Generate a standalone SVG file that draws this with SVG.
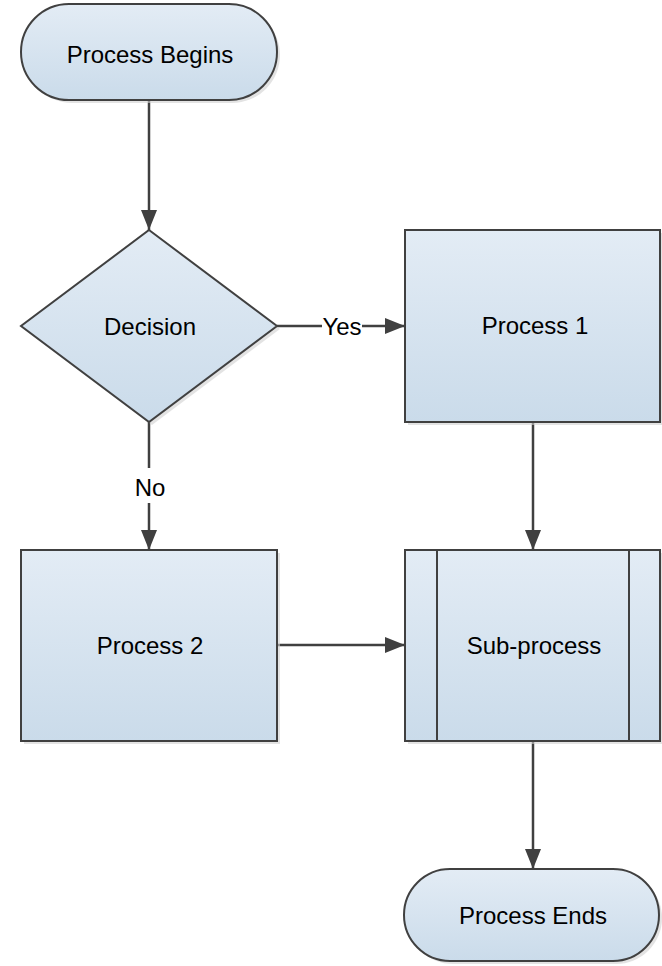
<svg xmlns="http://www.w3.org/2000/svg" width="662" height="966" viewBox="0 0 662 966">
<style>
.shape{fill:url(#g);stroke:#404040;stroke-width:2}
.shadow{fill:#d0d0d0;opacity:0.6}
.conn{fill:none;stroke:#404040;stroke-width:2.5}
.lbl,.clbl{font-family:"Liberation Sans",Arial,sans-serif;font-size:24px;fill:#000;text-anchor:middle}
</style>
<defs>
<linearGradient id="g" x1="0" y1="0" x2="0" y2="1">
<stop offset="0" stop-color="#e3ecf5"/>
<stop offset="1" stop-color="#cadbea"/>
</linearGradient>
<marker id="arr" viewBox="0 0 20 16" refX="20" refY="8" markerWidth="20" markerHeight="16" orient="auto" markerUnits="userSpaceOnUse">
<path d="M0,0 L20,8 L0,16 z" fill="#404040"/>
</marker>
</defs>
<g id="connectors">
<line class="conn" x1="149" y1="100" x2="149" y2="230" marker-end="url(#arr)"/>
<line class="conn" x1="277" y1="326" x2="322" y2="326"/>
<line class="conn" x1="362" y1="326" x2="405" y2="326" marker-end="url(#arr)"/>
<text class="clbl" x="342" y="335">Yes</text>
<line class="conn" x1="149" y1="422" x2="149" y2="468"/>
<line class="conn" x1="149" y1="503" x2="149" y2="550" marker-end="url(#arr)"/>
<text class="clbl" x="150" y="496">No</text>
<line class="conn" x1="533" y1="422" x2="533" y2="550" marker-end="url(#arr)"/>
<line class="conn" x1="277" y1="645" x2="405" y2="645" marker-end="url(#arr)"/>
<line class="conn" x1="533" y1="741" x2="533" y2="869" marker-end="url(#arr)"/>
</g>
<g id="start">
<rect class="shadow" x="24" y="7" width="256" height="96" rx="48"/>
<rect class="shape" x="21" y="4" width="256" height="96" rx="48"/>
<text class="lbl" x="150" y="63">Process Begins</text>
</g>
<g id="decision">
<polygon class="shadow" points="152,233 280,329 152,425 24,329"/>
<polygon class="shape" points="149,230 277,326 149,422 21,326"/>
<text class="lbl" x="150" y="335">Decision</text>
</g>
<g id="process1">
<rect class="shadow" x="408" y="233" width="255" height="192"/>
<rect class="shape" x="405" y="230" width="255" height="192"/>
<text class="lbl" x="535" y="334">Process 1</text>
</g>
<g id="process2">
<rect class="shadow" x="24" y="553" width="256" height="191"/>
<rect class="shape" x="21" y="550" width="256" height="191"/>
<text class="lbl" x="150" y="654">Process 2</text>
</g>
<g id="subprocess">
<rect class="shadow" x="408" y="553" width="255" height="191"/>
<rect class="shape" x="405" y="550" width="255" height="191"/>
<line x1="437" y1="550" x2="437" y2="741" stroke="#404040" stroke-width="2"/>
<line x1="629" y1="550" x2="629" y2="741" stroke="#404040" stroke-width="2"/>
<text class="lbl" x="534" y="654">Sub-process</text>
</g>
<g id="end">
<rect class="shadow" x="407" y="872" width="255" height="92" rx="46"/>
<rect class="shape" x="404" y="869" width="255" height="92" rx="46"/>
<text class="lbl" x="533" y="924">Process Ends</text>
</g>
</svg>
